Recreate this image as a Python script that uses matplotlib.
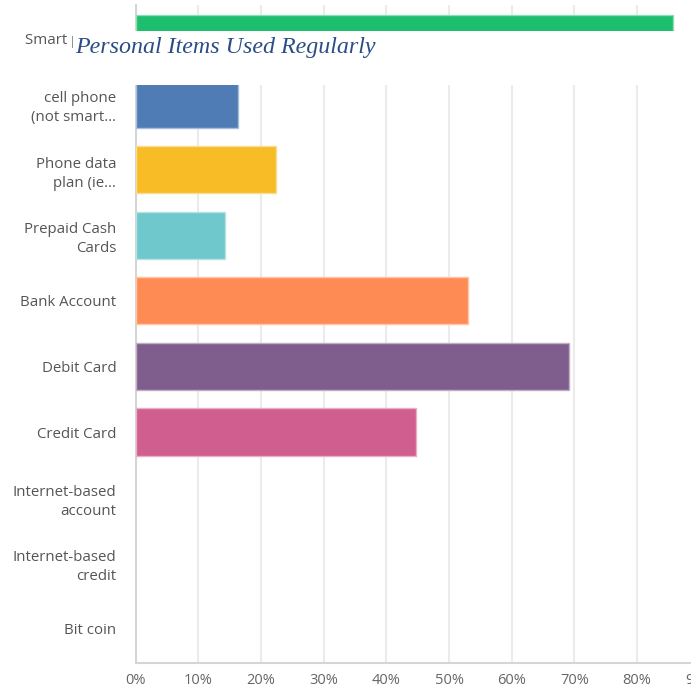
"""
Horizontal bar chart of personal items used regularly (share of respondents)
"""
import matplotlib.pyplot as plt
from matplotlib.patches import Rectangle
import numpy as np

# survey answers, top to bottom
items = [
    "Smart phone",
    "cell phone\n(not smart…",
    "Phone data\nplan (ie…",
    "Prepaid Cash\nCards",
    "Bank Account",
    "Debit Card",
    "Credit Card",
    "Internet-based\naccount",
    "Internet-based\ncredit",
    "Bit coin",
]
percent = [85.7, 16.3, 22.4, 14.2, 53.0, 69.2, 44.8, 0, 0, 0]
bar_colors = ["#1DBF6E", "#507CB6", "#F7BC26", "#6FC8CC", "#FF8B54",
              "#7F5E8E", "#D05F8F", "#8B9C9C", "#C6C6C6", "#E0C383"]
edge_colors = ["#8FDDB5", "#A8BEDB", "#FBDD92", "#B7E3E5", "#FFC5A9",
               "#BFAEC6", "#E8AFC7", "#C5CDCD", "#E2E2E2", "#EFE1C1"]
tick_values = [0, 10, 20, 30, 40, 50, 60, 70, 80, 90]

W, H = 691, 690
fig = plt.figure(figsize=(W / 100, H / 100), dpi=100)
plt.rcParams['font.family'] = ['Open Sans', 'DejaVu Sans']

# axes in pixel terms: x=0% at 135.7px, 62.67px per 10%, spine at y=663
x0 = 135.7
px_per_pct = 6.267
top_px, bottom_px = 5, 663
ax = fig.add_axes([x0 / W, (H - bottom_px) / H,
                   90 * px_per_pct / W, (bottom_px - top_px) / H])

y = np.arange(len(items))
# empty answers get no outline so nothing shows on the axis
edge_widths = [1.0 if p > 0 else 0 for p in percent]
ax.barh(y, percent, height=0.72, color=bar_colors, edgecolor=edge_colors,
        linewidth=edge_widths, zorder=3)

ax.set_xlim(0, 90)
ax.set_ylim(9.52, -0.51)
ax.set_xticks(tick_values)
ax.set_xticklabels([f"{v}%" for v in tick_values], fontsize=10.5, color="#666666")
ax.set_yticks(y)
ax.set_yticklabels(items, fontsize=10.8, color="#555555", linespacing=1.35)
ax.tick_params(axis='y', length=0, pad=14)
ax.tick_params(axis='x', length=0, pad=7)

ax.grid(axis='x', color="#EBEBEB", linewidth=1.5, zorder=0)
ax.set_axisbelow(True)
for side in ('top', 'right'):
    ax.spines[side].set_visible(False)
ax.spines['left'].set_color("#D5D5D5")
ax.spines['bottom'].set_color("#D5D5D5")
ax.spines['left'].set_linewidth(1.5)
ax.spines['bottom'].set_linewidth(1.5)

# title block laid over the top row
fig.patches.append(Rectangle((73 / W, (H - 85) / H), (W - 73) / W, 54 / H,
                             transform=fig.transFigure, facecolor="white",
                             edgecolor="none", zorder=10))
fig.text(75 / W, (H - 48) / H, "Personal Items Used Regularly",
         family="Liberation Serif", style="italic", fontsize=17.3,
         color="#2A4D85", va="center", ha="left", zorder=11)

fig.savefig("out.png", dpi=100)
